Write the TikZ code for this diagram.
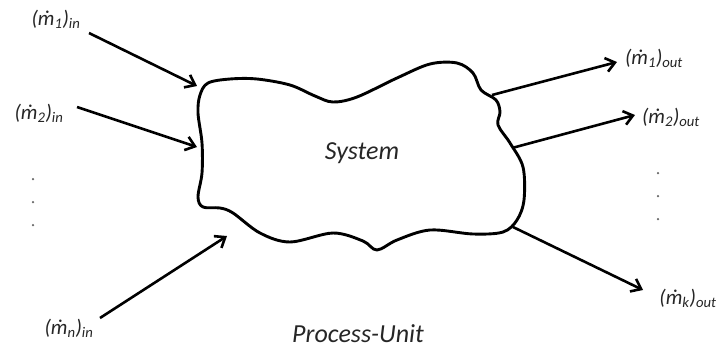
\documentclass[tikz,border=0pt]{standalone}
\usepackage{fontspec}
\setmainfont{Carlito}
\usetikzlibrary{arrows.meta}
\newcommand{\flow}[2]{(ṁ\textsubscript{#1})\textsubscript{#2}}
\begin{document}
\begin{tikzpicture}[x=1pt,y=-1pt,
  lbl/.style={font=\fontsize{21}{23}\selectfont\itshape, text=black!85, inner sep=0pt},
  big/.style={font=\fontsize{26}{30}\selectfont\itshape, text=black!85, inner sep=0pt},
  flowarrow/.style={line width=2.6pt, -{Straight Barb[length=9pt,width=14pt,line width=2.6pt]}},
  blob/.style={line width=2.9pt, line join=round},
  dotmark/.style={circle, fill=black!60, inner sep=0pt, minimum size=2.5pt}]
\useasboundingbox (0,0) rectangle (724,349);
% system boundary
\draw[blob] plot[smooth cycle, tension=0.55] coordinates {
(200,95) (208,83) (230,79) (257,79) (290,85) (315,96) (333,102) (357,97)
(397,78) (430,64) (457,63) (473,73) (481,90) (496,100) (500,112) (498,125)
(510,143) (523,167) (524,200) (517,220) (503,232) (473,234) (430,230)
(397,240) (377,250) (363,241) (333,233) (290,242) (260,233) (233,213)
(220,208) (203,207) (198,197) (202,173) (202,143) (198,113)};
\node[big] (sys) at (362,153) {System};
\node[big] (pu) at (358,334) {Process-Unit};
% labels
\node[lbl] (in1) at (56,19) {\flow{1}{in}};
\node[lbl] (in2) at (39,113) {\flow{2}{in}};
\node[lbl] (inn) at (69,328) {\flow{n}{in}};
\node[lbl] (out1) at (654,58) {\flow{1}{out}};
\node[lbl] (out2) at (671,117) {\flow{2}{out}};
\node[lbl] (outk) at (688,298) {\flow{k}{out}};
% arrow ends
\coordinate (a1s) at (89,33);  \coordinate (a1e) at (197,86);
\coordinate (a2s) at (77,107); \coordinate (a2e) at (197,147);
\coordinate (ans) at (100,318); \coordinate (ane) at (227,236);
\coordinate (b1s) at (492,95); \coordinate (b1e) at (617,62);
\coordinate (b2s) at (512,148); \coordinate (b2e) at (635,115);
\coordinate (bks) at (513,227); \coordinate (bke) at (643,290);
\draw[flowarrow] (a1s) -- (a1e);
\draw[flowarrow] (a2s) -- (a2e);
\draw[flowarrow] (ans) -- (ane);
\draw[flowarrow] (b1s) -- (b1e);
\draw[flowarrow] (b2s) -- (b2e);
\draw[flowarrow] (bks) -- (bke);
% dots
\node[dotmark] (l1) at (33,179) {};
\node[dotmark] (l2) at (33,202) {};
\node[dotmark] (l3) at (33,225) {};
\node[dotmark] (r1) at (658,173) {};
\node[dotmark] (r2) at (658,196) {};
\node[dotmark] (r3) at (658,219) {};
\end{tikzpicture}
\end{document}
